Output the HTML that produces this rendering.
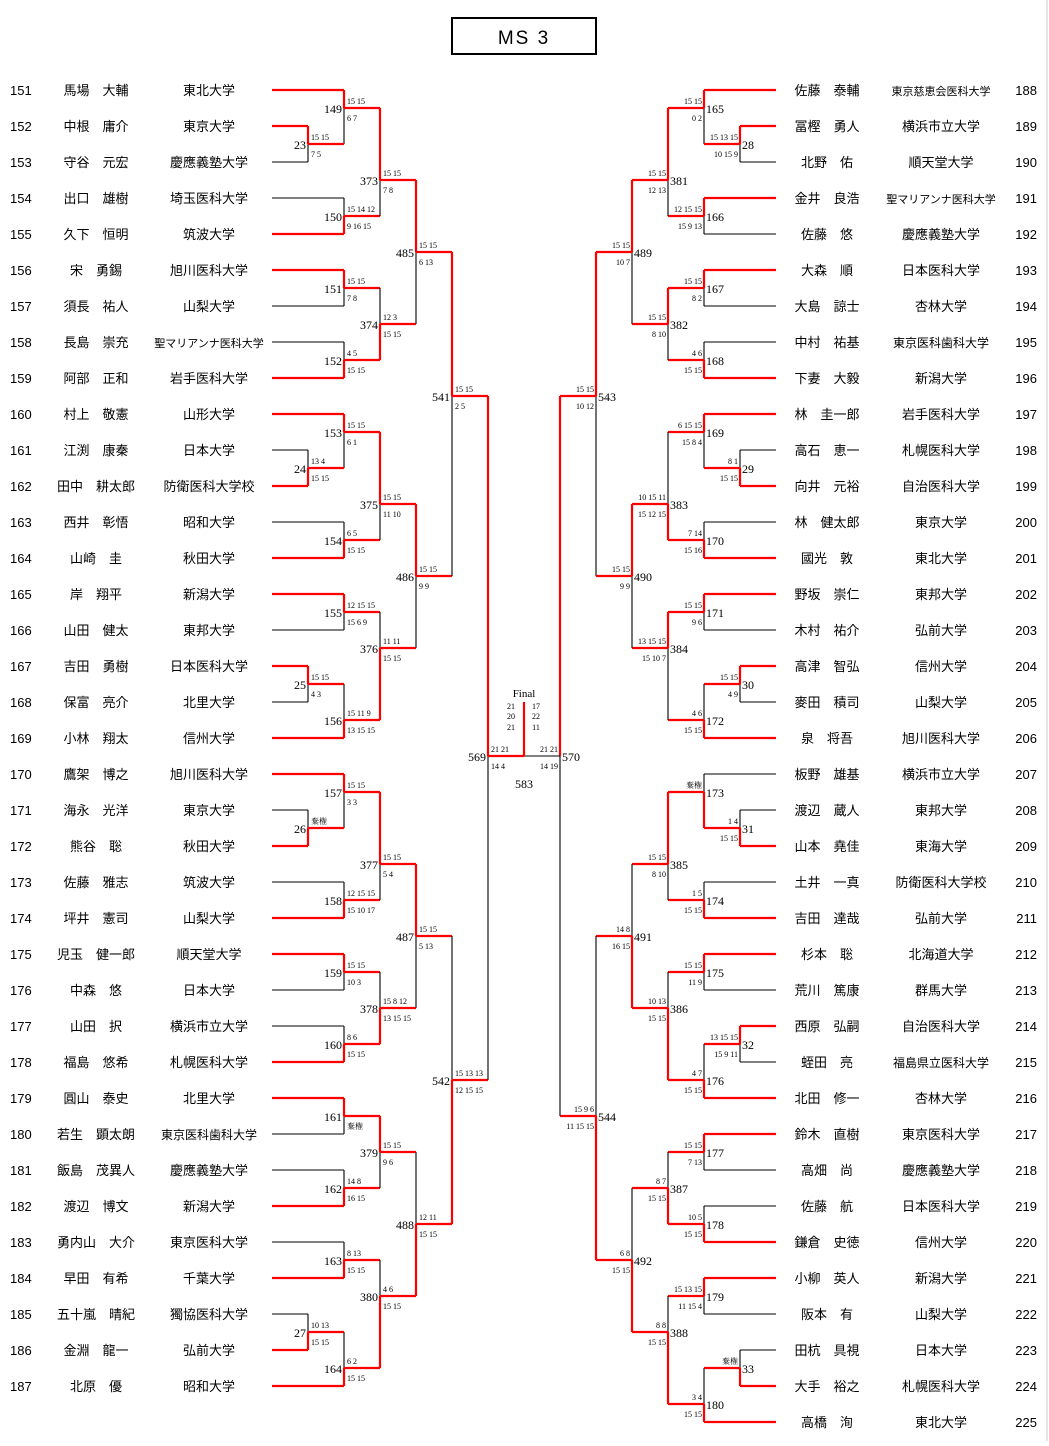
<!DOCTYPE html>
<html><head><meta charset="utf-8"><style>
html,body{margin:0;padding:0;background:#fff;}
svg text{font-family:"Liberation Serif","Noto Serif CJK SC","Noto Sans CJK JP",serif;}
svg text.n{font-family:"Liberation Sans","Noto Sans CJK JP",sans-serif;}
</style></head><body>
<svg id="s" xmlns="http://www.w3.org/2000/svg" width="1049" height="1441" viewBox="0 0 1049 1441">
<line x1="1047" y1="0" x2="1047" y2="1441" stroke="#ccc" stroke-width="1"/>
<rect x="452" y="18" width="144" height="36" fill="#fff" stroke="#000" stroke-width="2"/>
<text x="524" y="44" font-size="19" text-anchor="middle" letter-spacing="2" style="font-family:'Liberation Sans',sans-serif">MS 3</text>
<text x="524" y="697" font-size="11" text-anchor="middle">Final</text>
<text x="511" y="709" font-size="8" text-anchor="middle">21</text>
<text x="511" y="719" font-size="8" text-anchor="middle">20</text>
<text x="511" y="730" font-size="8" text-anchor="middle">21</text>
<text x="536" y="709" font-size="8" text-anchor="middle">17</text>
<text x="536" y="719" font-size="8" text-anchor="middle">22</text>
<text x="536" y="730" font-size="8" text-anchor="middle">11</text>
<text x="524" y="788" font-size="12" text-anchor="middle">583</text>
</svg>
<script>
var s=document.getElementById('s'),NS='http://www.w3.org/2000/svg';
function el(n,a,t){var e=document.createElementNS(NS,n);for(var k in a)e.setAttribute(k,a[k]);if(t!==undefined)e.textContent=t;s.appendChild(e);return e;}
function ln(x1,y1,x2,y2,red){el('line',{x1:x1,y1:y1,x2:x2,y2:y2,stroke:red?'#f00':'#000','stroke-width':red?2.2:1.1});}
function tx(x,y,t,sz,anc,cls){var a={x:x,y:y,'font-size':sz,'text-anchor':anc||'start'};if(cls)a['class']=cls;el('text',a,t);}
var L=[
['149',344,90,144,108,'t','15 15','6 7'],['23',308,126,162,144,'t','15 15','7 5'],['150',344,198,234,216,'b','15 14 12','9 16 15'],
['373',380,108,216,180,'t','15 15','7 8'],['151',344,270,306,288,'t','15 15','7 8'],['152',344,342,378,360,'b','4 5','15 15'],
['374',380,288,360,324,'b','12 3','15 15'],['485',416,180,324,252,'t','15 15','6 13'],
['153',344,414,468,432,'t','15 15','6 1'],['24',308,450,486,468,'b','13 4','15 15'],['154',344,522,558,540,'b','6 5','15 15'],
['375',380,432,540,504,'t','15 15','11 10'],['155',344,594,630,612,'t','12 15 15','15 6 9'],['25',308,666,702,684,'t','15 15','4 3'],
['156',344,684,738,720,'b','15 11 9','13 15 15'],['376',380,612,720,648,'b','11 11','15 15'],['486',416,504,648,576,'t','15 15','9 9'],
['541',452,252,576,396,'t','15 15','2 5'],
['157',344,774,828,792,'t','15 15','3 3'],['26',308,810,846,828,'b','棄権',''],['158',344,882,918,900,'b','12 15 15','15 10 17'],
['377',380,792,900,864,'t','15 15','5 4'],['159',344,954,990,972,'t','15 15','10 3'],['160',344,1026,1062,1044,'b','8 6','15 15'],
['378',380,972,1044,1008,'b','15 8 12','13 15 15'],['487',416,864,1008,936,'t','15 15','5 13'],
['161',344,1098,1134,1116,'t','','棄権'],['162',344,1170,1206,1188,'b','14 8','16 15'],['379',380,1116,1188,1152,'t','15 15','9 6'],
['163',344,1242,1278,1260,'b','8 13','15 15'],['27',308,1314,1350,1332,'b','10 13','15 15'],['164',344,1332,1386,1368,'b','6 2','15 15'],
['380',380,1260,1368,1296,'b','4 6','15 15'],['488',416,1152,1296,1224,'b','12 11','15 15'],['542',452,936,1224,1080,'b','15 13 13','12 15 15'],
['569',488,396,1080,756,'t','21 21','14 4']];
var R=[
['165',704,90,144,108,'t','15 15','0 2'],['28',740,126,162,144,'t','15 13 15','10 15 9'],['166',704,198,234,216,'t','12 15 15','15 9 13'],
['381',668,108,216,180,'t','15 15','12 13'],['167',704,270,306,288,'t','15 15','8 2'],['168',704,342,378,360,'b','4 6','15 15'],
['382',668,288,360,324,'t','15 15','8 10'],['489',632,180,324,252,'t','15 15','10 7'],['543',596,252,576,396,'t','15 15','10 12'],
['169',704,414,468,432,'t','6 15 15','15 8 4'],['29',740,450,486,468,'b','8 1','15 15'],['170',704,522,558,540,'b','7 14','15 16'],
['383',668,432,540,504,'b','10 15 11','15 12 15'],['171',704,594,630,612,'t','15 15','9 6'],['30',740,666,702,684,'t','15 15','4 9'],
['172',704,684,738,720,'b','4 6','15 15'],['384',668,612,720,648,'t','13 15 15','15 10 7'],['490',632,504,648,576,'t','15 15','9 9'],
['173',704,774,828,792,'b','棄権',''],['31',740,810,846,828,'b','1 4','15 15'],['174',704,882,918,900,'b','1 5','15 15'],
['385',668,792,900,864,'t','15 15','8 10'],['175',704,954,990,972,'t','15 15','11 9'],['32',740,1026,1062,1044,'t','13 15 15','15 9 11'],
['176',704,1044,1098,1080,'b','4 7','15 15'],['386',668,972,1080,1008,'b','10 13','15 15'],['491',632,864,1008,936,'b','14 8','16 15'],
['177',704,1134,1170,1152,'t','15 15','7 13'],['178',704,1206,1242,1224,'b','10 5','15 15'],['387',668,1152,1224,1188,'b','8 7','15 15'],
['179',704,1278,1314,1296,'t','15 13 15','11 15 4'],['33',740,1350,1386,1368,'b','棄権',''],['180',704,1368,1422,1404,'b','3 4','15 15'],
['388',668,1296,1404,1332,'b','8 8','15 15'],['492',632,1188,1332,1260,'b','6 8','15 15'],['544',596,936,1260,1116,'b','15 9 6','11 15 15'],
['570',560,396,1116,756,'t','21 21','14 19']];
function draw(M,left){
 M.forEach(function(m){
  var x=m[1],y1=m[2],y2=m[3],o=m[4],w=m[5],wy=w=='t'?y1:y2,d=left?1:-1;
  [y1,y2].forEach(function(y){ if((y-90)%36==0){ ln(left?272:776,y,x,y,y==wy);} });
  ln(x,y1,x,y2,false);
  ln(x,Math.min(wy,o),x,Math.max(wy,o),true);
  ln(x,o,x+36*d,o,m[0]!=='570');
  tx(left?x-2:x+2,o+5,m[0],12,left?'end':'start');
  tx(left?x+3:x-2,o-4,m[6],8,left?'start':'end');
  tx(left?x+3:x-2,o+13,m[7],8,left?'start':'end');
 });
}
draw(L,true);draw(R,false);
ln(524,702,524,756,true);
var LN=[['馬場 大輔','東北大学'],['中根 庸介','東京大学'],['守谷 元宏','慶應義塾大学'],['出口 雄樹','埼玉医科大学'],['久下 恒明','筑波大学'],['宋 勇錫','旭川医科大学'],['須長 祐人','山梨大学'],['長島 崇充','聖マリアンナ医科大学'],['阿部 正和','岩手医科大学'],['村上 敬憲','山形大学'],['江渕 康秦','日本大学'],['田中 耕太郎','防衛医科大学校'],['西井 彰悟','昭和大学'],['山崎 圭','秋田大学'],['岸 翔平','新潟大学'],['山田 健太','東邦大学'],['吉田 勇樹','日本医科大学'],['保富 亮介','北里大学'],['小林 翔太','信州大学'],['鷹架 博之','旭川医科大学'],['海永 光洋','東京大学'],['熊谷 聡','秋田大学'],['佐藤 雅志','筑波大学'],['坪井 憲司','山梨大学'],['児玉 健一郎','順天堂大学'],['中森 悠','日本大学'],['山田 択','横浜市立大学'],['福島 悠希','札幌医科大学'],['圓山 泰史','北里大学'],['若生 顕太朗','東京医科歯科大学'],['飯島 茂異人','慶應義塾大学'],['渡辺 博文','新潟大学'],['勇内山 大介','東京医科大学'],['早田 有希','千葉大学'],['五十嵐 晴紀','獨協医科大学'],['金淵 龍一','弘前大学'],['北原 優','昭和大学']];
var RN=[['佐藤 泰輔','東京慈恵会医科大学'],['冨樫 勇人','横浜市立大学'],['北野 佑','順天堂大学'],['金井 良浩','聖マリアンナ医科大学'],['佐藤 悠','慶應義塾大学'],['大森 順','日本医科大学'],['大島 諒士','杏林大学'],['中村 祐基','東京医科歯科大学'],['下妻 大毅','新潟大学'],['林 圭一郎','岩手医科大学'],['高石 恵一','札幌医科大学'],['向井 元裕','自治医科大学'],['林 健太郎','東京大学'],['國光 敦','東北大学'],['野坂 崇仁','東邦大学'],['木村 祐介','弘前大学'],['高津 智弘','信州大学'],['麥田 積司','山梨大学'],['泉 将吾','旭川医科大学'],['板野 雄基','横浜市立大学'],['渡辺 蔵人','東邦大学'],['山本 堯佳','東海大学'],['土井 一真','防衛医科大学校'],['吉田 達哉','弘前大学'],['杉本 聡','北海道大学'],['荒川 篤康','群馬大学'],['西原 弘嗣','自治医科大学'],['蛭田 亮','福島県立医科大学'],['北田 修一','杏林大学'],['鈴木 直樹','東京医科大学'],['高畑 尚','慶應義塾大学'],['佐藤 航','日本医科大学'],['鎌倉 史徳','信州大学'],['小柳 英人','新潟大学'],['阪本 有','山梨大学'],['田杭 具視','日本大学'],['大手 裕之','札幌医科大学'],['高橋 洵','東北大学']];
function usz(u){return u.length>=9?11:(u.length>=8?12:13);}
LN.forEach(function(p,i){var y=90+36*i+5;tx(10,y,String(151+i),13,'start','n');tx(96,y,p[0].replace(' ','\u3000'),13,'middle','n');tx(209,y,p[1],usz(p[1]),'middle','n');});
RN.forEach(function(p,i){var y=90+36*i+5;tx(1037,y,String(188+i),13,'end','n');tx(827,y,p[0].replace(' ','\u3000'),13,'middle','n');tx(941,y,p[1],usz(p[1]),'middle','n');});
</script>
</body></html>
